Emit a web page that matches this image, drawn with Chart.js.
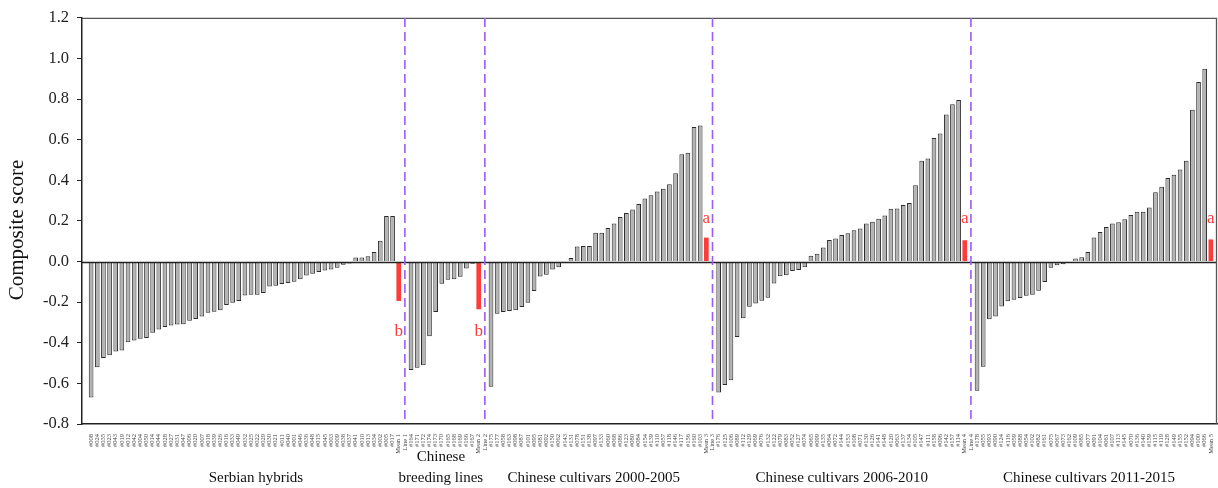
<!DOCTYPE html>
<html><head><meta charset="utf-8">
<script src="https://cdn.jsdelivr.net/npm/chart.js@4.4.1/dist/chart.umd.min.js"></script>
<style>html,body{margin:0;padding:0;background:#fff;}canvas{display:block}</style>
</head><body>
<canvas id="c" width="1218" height="488"></canvas>
<script>
// ---- data ----
const serbianIds = ["#008","#024","#035","#023","#043","#019","#012","#042","#004","#050","#014","#044","#028","#027","#031","#047","#006","#020","#007","#018","#039","#026","#016","#033","#049","#032","#025","#022","#029","#030","#021","#011","#040","#001","#046","#036","#048","#015","#045","#003","#009","#038","#037","#041","#010","#013","#034","#002","#005","#017"];
const serbianValues = [-0.67,-0.52,-0.475,-0.462,-0.443,-0.438,-0.397,-0.389,-0.38,-0.377,-0.351,-0.335,-0.322,-0.315,-0.31,-0.309,-0.291,-0.283,-0.27,-0.252,-0.247,-0.24,-0.214,-0.203,-0.194,-0.167,-0.163,-0.163,-0.155,-0.123,-0.119,-0.11,-0.105,-0.10,-0.087,-0.069,-0.06,-0.052,-0.044,-0.039,-0.031,-0.016,-0.01,0.02,0.02,0.026,0.047,0.103,0.224,0.224];

const breedingIds = ["#164","#171","#172","#174","#173","#170","#165","#168","#169","#166","#167"];
const breedingValues = [-0.534,-0.523,-0.511,-0.368,-0.248,-0.109,-0.090,-0.087,-0.075,-0.034,-0.011];

const cultivars0005Ids = ["#175","#177","#058","#163","#098","#087","#101","#095","#081","#092","#150","#062","#143","#131","#078","#151","#138","#097","#133","#060","#068","#086","#123","#080","#084","#154","#139","#110","#057","#118","#146","#117","#156","#160","#103"];
const cultivars0005Values = [-0.616,-0.257,-0.248,-0.243,-0.240,-0.224,-0.203,-0.145,-0.074,-0.065,-0.039,-0.028,-0.004,0.018,0.074,0.077,0.077,0.142,0.142,0.165,0.188,0.219,0.239,0.257,0.283,0.310,0.327,0.345,0.359,0.381,0.435,0.528,0.536,0.663,0.670];

const cultivars0610Ids = ["#176","#125","#106","#089","#112","#129","#069","#076","#132","#122","#079","#083","#052","#127","#074","#065","#099","#135","#064","#072","#144","#153","#108","#071","#130","#126","#141","#148","#120","#063","#137","#134","#105","#147","#111","#158","#096","#142","#157","#114"];
const cultivars0610Values = [-0.645,-0.608,-0.585,-0.371,-0.279,-0.222,-0.206,-0.193,-0.178,-0.108,-0.072,-0.067,-0.046,-0.042,-0.028,0.028,0.038,0.069,0.106,0.114,0.131,0.139,0.154,0.163,0.188,0.196,0.211,0.227,0.260,0.261,0.278,0.289,0.376,0.497,0.508,0.608,0.631,0.724,0.775,0.796];

const cultivars1115Ids = ["#178","#055","#093","#090","#124","#116","#059","#088","#054","#102","#082","#161","#075","#067","#073","#162","#109","#085","#077","#091","#104","#061","#107","#113","#145","#070","#136","#140","#159","#115","#119","#128","#149","#155","#152","#094","#100","#066"];
const cultivars1115Values = [-0.636,-0.518,-0.284,-0.270,-0.221,-0.196,-0.188,-0.180,-0.168,-0.163,-0.144,-0.101,-0.031,-0.018,-0.013,-0.003,0.015,0.021,0.047,0.118,0.145,0.170,0.188,0.194,0.208,0.229,0.245,0.245,0.266,0.341,0.368,0.412,0.428,0.453,0.497,0.748,0.884,0.949];

const meanLabels = ["Mean 1","Mean 2","Mean 3","Mean 4","Mean 5"];
const meanValues = [-0.194,-0.235,0.118,0.105,0.109];
const meanLetters = ["b","b","a","a","a"];
const separatorLabels = ["Line 1","Line 2","Line 3","Line 4"];
const groupNames = [["Serbian hybrids"],["Chinese","breeding lines"],["Chinese cultivars 2000-2005"],["Chinese cultivars 2006-2010"],["Chinese cultivars 2011-2015"]];
const yAxisTitle = "Composite score";

// ---- build the slot table (one slot per genotype, mean, and separator) ----
const groups = [
  {ids: serbianIds, values: serbianValues},
  {ids: breedingIds, values: breedingValues},
  {ids: cultivars0005Ids, values: cultivars0005Values},
  {ids: cultivars0610Ids, values: cultivars0610Values},
  {ids: cultivars1115Ids, values: cultivars1115Values}
];
const labels = [""];
const grayPoints = [], redPoints = [];
const meanIdx = [], lineIdx = [], groupRange = [];
groups.forEach((g, gi) => {
  const start = labels.length;
  g.ids.forEach((id, i) => { grayPoints.push({x: labels.length, y: g.values[i]}); labels.push(id); });
  redPoints.push({x: labels.length, y: meanValues[gi]});
  meanIdx.push(labels.length);
  labels.push(meanLabels[gi]);
  groupRange.push([start, labels.length - 1]);
  if (gi < groups.length - 1) { lineIdx.push(labels.length); labels.push(separatorLabels[gi]); }
});
labels.push("");

const SERIF = '"Liberation Serif", "Times New Roman", serif';

const decor = {
  id: 'decor',
  afterDatasetsDraw(chart) {
    const {ctx, chartArea: a, scales: {x, y}} = chart;
    ctx.save();
    const y0 = Math.round(y.getPixelForValue(0)) + 0.5;
    ctx.strokeStyle = '#222'; ctx.lineWidth = 1.3;
    ctx.beginPath(); ctx.moveTo(a.left, y0); ctx.lineTo(a.right, y0); ctx.stroke();
    ctx.strokeStyle = '#555'; ctx.lineWidth = 1.3;
    ctx.beginPath(); ctx.moveTo(a.left, a.top + 0.5); ctx.lineTo(a.right - 0.5, a.top + 0.5); ctx.lineTo(a.right - 0.5, a.bottom); ctx.stroke();
    ctx.strokeStyle = '#9b5cf6'; ctx.lineWidth = 1.6; ctx.setLineDash([9, 5]);
    lineIdx.forEach(i => {
      const px = x.getPixelForValue(i);
      ctx.beginPath(); ctx.moveTo(px, a.top); ctx.lineTo(px, a.bottom); ctx.stroke();
    });
    ctx.setLineDash([]);
    const letterLevel = {a: 0.21, b: -0.345};
    ctx.fillStyle = '#ff3b3b'; ctx.font = '17px ' + SERIF;
    ctx.textAlign = 'center'; ctx.textBaseline = 'middle';
    meanIdx.forEach((i, k) => {
      ctx.fillText(meanLetters[k], x.getPixelForValue(i), y.getPixelForValue(letterLevel[meanLetters[k]]));
    });
    const nudge = [11, -4, -5, 0, -5];
    ctx.fillStyle = '#111'; ctx.font = '15px ' + SERIF;
    groupRange.forEach((r, gi) => {
      const cx = (x.getPixelForValue(r[0]) + x.getPixelForValue(r[1])) / 2 + nudge[gi];
      const lines = groupNames[gi];
      if (lines.length === 1) ctx.fillText(lines[0], cx, 478);
      else { ctx.fillText(lines[0], cx, 457); ctx.fillText(lines[1], cx, 478); }
    });
    // y-axis title (slightly below the plot centre, as in the reference)
    ctx.save();
    ctx.translate(17, (a.top + a.bottom) / 2 + 9);
    ctx.rotate(-Math.PI / 2);
    ctx.fillStyle = '#111'; ctx.font = '21px ' + SERIF;
    ctx.fillText(yAxisTitle, 0, 0);
    ctx.restore();
    ctx.restore();
  }
};

new Chart(document.getElementById('c'), {
  type: 'bar',
  data: {
    datasets: [
      {label: 'Genotypes', data: grayPoints, backgroundColor: '#b3b3b3', borderColor: '#2b2b2b', borderWidth: 1,
       barPercentage: 0.76, categoryPercentage: 1, grouped: false},
      {label: 'Group means', data: redPoints, backgroundColor: '#ff3b3b', borderWidth: 0,
       barPercentage: 0.76, categoryPercentage: 1, grouped: false}
    ]
  },
  options: {
    responsive: false, animation: false, devicePixelRatio: 1,
    layout: {padding: {top: 16, right: 1, left: 0, bottom: 0}},
    plugins: {legend: {display: false}, tooltip: {enabled: false}},
    scales: {
      x: {
        type: 'linear', min: -0.48, max: 184.0, offset: false,
        grid: {display: false},
        border: {color: '#222', width: 1.5},
        ticks: {stepSize: 1, includeBounds: false, autoSkip: false, minRotation: 90, maxRotation: 90, padding: 2,
                font: {family: SERIF, size: 6.5}, color: '#444',
                callback: v => (Number.isInteger(v) && labels[v] !== undefined) ? labels[v] : ''},
        afterFit: s => { s.height = 64; s.paddingLeft = 0; s.paddingRight = 0; }
      },
      y: {
        min: -0.8, max: 1.2,
        ticks: {stepSize: 0.2, padding: 8, color: '#222', font: {family: SERIF, size: 16.5},
                callback: v => (Math.abs(v) < 1e-9 ? 0 : v).toFixed(1)},
        grid: {color: 'rgba(0,0,0,0)', tickColor: '#222', tickLength: 5, drawOnChartArea: true},
        border: {color: '#222', width: 1.5},
        title: {display: false},
        afterFit: s => { s.width = 82; }
      }
    }
  },
  plugins: [decor]
});
</script>
</body></html>
